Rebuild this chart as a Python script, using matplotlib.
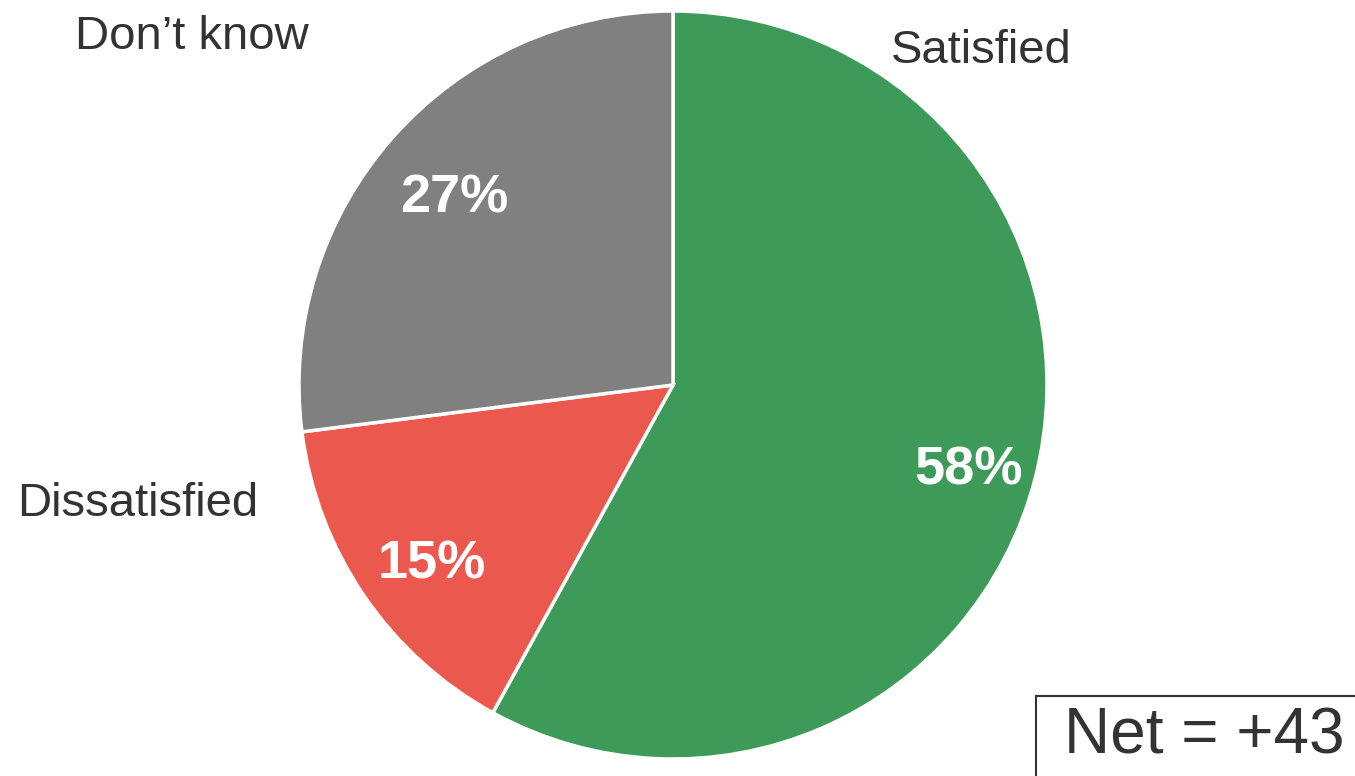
import matplotlib.pyplot as plt
from matplotlib.patches import Rectangle

plt.rcParams['font.family'] = ['Liberation Sans', 'DejaVu Sans']

# data
categories = ['Satisfied', 'Dissatisfied', "Don\u2019t know"]
shares = [58, 15, 27]
colors = ['#3d9a58', '#eb594e', '#808080']
net_label = 'Net = +43'

W, H = 1355, 776
cx, cy, R = 673, 385, 374

fig = plt.figure(figsize=(W / 100, H / 100), dpi=100)
ax = fig.add_axes([0, 0, 1, 1])

wedges, texts, autotexts = ax.pie(
    shares, colors=colors, startangle=90, counterclock=False,
    radius=1, center=(0, 0), autopct='%d%%', pctdistance=0.8,
    wedgeprops=dict(edgecolor='white', linewidth=2.5),
    textprops=dict(color='white', fontsize=39, fontweight='bold'),
)
# nudge percentages slightly right/down like the original
for t in autotexts:
    x, y = t.get_position()
    t.set_position((x + 6 / R, y - 11 / R))

# pie() sets its own limits, so put ours back afterwards
ax.set_xlim(-cx / R, (W - cx) / R)
ax.set_ylim(-(H - cy) / R, cy / R)
ax.set_aspect('equal')
ax.axis('off')

# category labels sit outside the pie, placed by hand in pixel terms
label_px = {'Satisfied': (981, 51), 'Dissatisfied': (138, 504), "Don\u2019t know": (192, 37)}
for name in categories:
    px, py = label_px[name]
    ax.text((px - cx) / R, (cy - py) / R, name, ha='center', va='center',
            fontsize=34, color='#333333')

# net box, runs off the bottom-right corner
fig.patches.append(Rectangle((1036 / W, -0.05), 0.5, 1 - 696 / H + 0.05,
                             transform=fig.transFigure, facecolor='white',
                             edgecolor='#333333', linewidth=1.5))
fig.text(1204 / W, 1 - 737 / H, net_label, ha='center', va='center',
         fontsize=46, color='#333333')

fig.savefig('out.png', dpi=100)
